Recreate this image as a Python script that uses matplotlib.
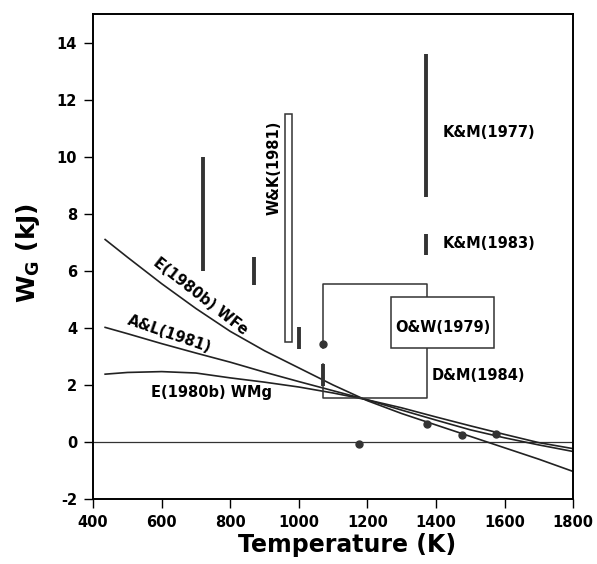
import matplotlib
matplotlib.use("Agg")
import matplotlib.pyplot as plt
from matplotlib.patches import Rectangle

plt.rcParams['font.family'] = 'DejaVu Sans'
plt.rcParams['font.weight'] = 'bold'
plt.rcParams['mathtext.fontset'] = 'dejavusans'
plt.rcParams['axes.unicode_minus'] = False

# curves (T in K, W in kJ)
temps = [435, 500, 600, 700, 800, 900, 1000, 1100, 1200, 1300, 1400, 1500, 1600, 1700, 1800]
w_fe = [7.1, 6.48, 5.55, 4.68, 3.88, 3.2, 2.6, 2.0, 1.45, 1.0, 0.6, 0.2, -0.2, -0.6, -1.03]
w_al = [4.02, 3.8, 3.45, 3.12, 2.8, 2.45, 2.12, 1.8, 1.48, 1.12, 0.77, 0.43, 0.15, -0.1, -0.33]
w_mg = [2.38, 2.44, 2.47, 2.42, 2.25, 2.1, 1.93, 1.72, 1.48, 1.2, 0.88, 0.57, 0.27, -0.02, -0.23]

# vertical ranges (solid bars)
bar_T = [720, 870, 1000, 1370, 1370, 1070]
bar_lo = [6.0, 5.5, 3.25, 8.6, 6.55, 1.95]
bar_hi = [10.0, 6.5, 4.05, 13.6, 7.3, 2.75]

# W&K(1981) open bar
wk_T = [960, 980]
wk_W = [3.5, 11.5]

# boxes
dm_T = [1070, 1375]
dm_W = [1.55, 5.55]
ow_T = [1270, 1570]
ow_W = [3.3, 5.1]

# single points
pt_T = [1070, 1175, 1375, 1475, 1575]
pt_W = [3.45, -0.05, 0.65, 0.25, 0.3]

fig = plt.figure(figsize=(5.97, 5.64), dpi=100)
ax = fig.add_axes([0.156, 0.115, 0.804, 0.86])

ax.set_xlim(400, 1800)
ax.set_ylim(-2, 15)
ax.set_xticks(range(400, 1801, 200))
ax.set_yticks(range(-2, 15, 2))
ax.tick_params(direction='out', length=6.5, width=1, labelsize=10.5, pad=5)
for s in ax.spines.values():
    s.set_linewidth(1.4)

ax.axhline(0, color='#333333', lw=0.9)

ax.plot(temps, w_fe, color='#222222', lw=1.2)
ax.plot(temps, w_al, color='#222222', lw=1.2)
ax.plot(temps, w_mg, color='#222222', lw=1.2)

for t, lo, hi in zip(bar_T, bar_lo, bar_hi):
    ax.plot([t, t], [lo, hi], color='#333333', lw=2.8, solid_capstyle='butt')

ax.add_patch(Rectangle((wk_T[0], wk_W[0]), wk_T[1] - wk_T[0], wk_W[1] - wk_W[0],
                       fill=False, ec='#333333', lw=1.1))

# D&M box, left edge broken near the point
ax.plot([dm_T[0], dm_T[0], dm_T[1], dm_T[1], dm_T[0], dm_T[0]],
        [3.3, dm_W[1], dm_W[1], dm_W[0], dm_W[0], 2.75], color='#333333', lw=1.1)

ax.add_patch(Rectangle((ow_T[0], ow_W[0]), ow_T[1] - ow_T[0], ow_W[1] - ow_W[0],
                       fc='white', ec='#333333', lw=1.1, zorder=3))

ax.plot(pt_T, pt_W, 'o', color='#333333', ms=5, zorder=4)

fs = 10.5
ax.text(714, 5.1, 'E(1980b) WFe', rotation=-38, ha='center', va='center', fontsize=fs)
ax.text(622, 3.8, 'A&L(1981)', rotation=-19, ha='center', va='center', fontsize=fs)
ax.text(745, 1.74, 'E(1980b) WMg', ha='center', va='center', fontsize=fs)
ax.text(929, 9.6, 'W&K(1981)', rotation=90, ha='center', va='center', fontsize=fs)
ax.text(1418, 10.86, 'K&M(1977)', ha='left', va='center', fontsize=fs)
ax.text(1418, 6.96, 'K&M(1983)', ha='left', va='center', fontsize=fs)
ax.text(1420, 4.0, 'O&W(1979)', ha='center', va='center', fontsize=fs, zorder=5)
ax.text(1388, 2.33, 'D&M(1984)', ha='left', va='center', fontsize=fs)

ax.text(0.529, -0.095, 'Temperature (K)', transform=ax.transAxes,
        ha='center', va='center', fontsize=17)
ax.text(-0.135, 0.507, r'W$_\mathbf{G}$ (kJ)', transform=ax.transAxes,
        rotation=90, ha='center', va='center', fontsize=18)

fig.savefig('out.png', dpi=100)
